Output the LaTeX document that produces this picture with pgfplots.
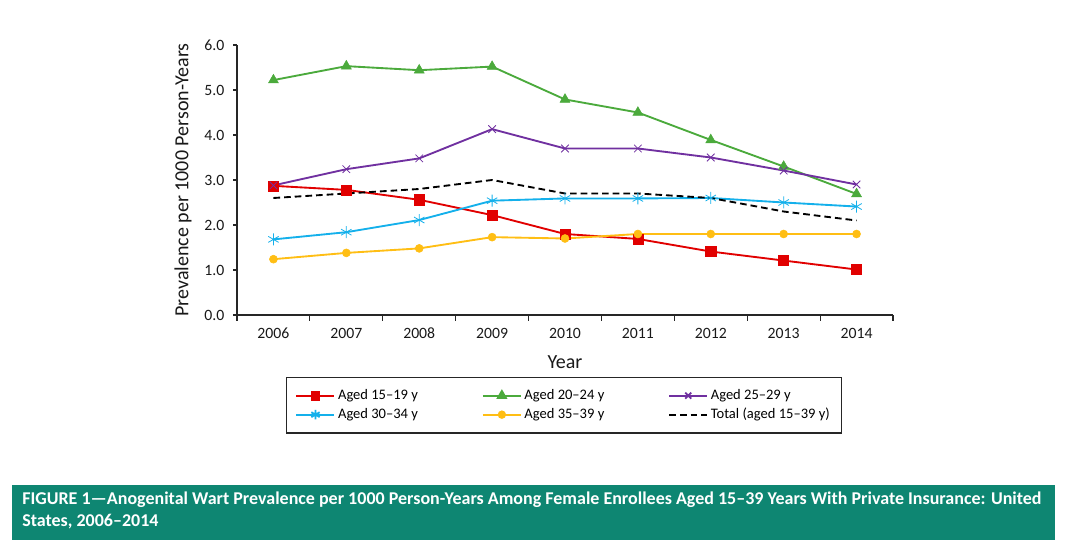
\documentclass[border=0pt]{standalone}
\usepackage{fontspec}
\setmainfont{Carlito}
\usepackage{pgfplots}
\pgfplotsset{compat=1.18}
\definecolor{cred}{RGB}{225,0,0}
\definecolor{cgreen}{RGB}{75,170,60}
\definecolor{cpurple}{RGB}{112,48,160}
\definecolor{cblue}{RGB}{20,176,235}
\definecolor{corange}{RGB}{255,190,20}
\definecolor{cteal}{RGB}{14,134,114}
\begin{document}
\begin{tikzpicture}
\useasboundingbox (0,0) rectangle (800.25pt,416.25pt);
\begin{axis}[
  at={(177.75pt,180pt)}, anchor=south west,
  scale only axis, width=492pt, height=202.5pt,
  xmin=2005.5, xmax=2014.5, ymin=0, ymax=6,
  axis lines*=left,
  axis line style={line width=0.9pt, black!85},
  xtick={2006,2007,2008,2009,2010,2011,2012,2013,2014},
  xticklabels={2006,2007,2008,2009,2010,2011,2012,2013,2014},
  minor xtick={2005.5,2006.5,2007.5,2008.5,2009.5,2010.5,2011.5,2012.5,2013.5,2014.5},
  every major x tick/.style={draw=none},
  every minor tick/.append style={line width=0.9pt, black!85},
  every major tick/.append style={line width=0.9pt, black!85},
  minor tick length=4.5pt, major tick length=3pt, tick align=outside,
  ytick={0,1,2,3,4,5,6},
  yticklabels={0.0,1.0,2.0,3.0,4.0,5.0,6.0},
  tick label style={font=\fontsize{11.8}{12}\selectfont, text=black!90},
  xticklabel style={text height=7.5pt, text depth=0pt, yshift=-3.5pt},
  yticklabel style={xshift=-3pt},
  xlabel={Year}, ylabel={Prevalence per 1000 Person-Years},
  label style={font=\fontsize{15}{16}\selectfont, text=black!90},
  xlabel style={at={(axis description cs:0.5,-0.174)}, anchor=center},
  ylabel style={at={(axis description cs:-0.0823,0.5)}, anchor=center},
  legend columns=3,
  legend cell align=left,
  legend style={at={(0.4985,-0.2296)}, anchor=north, draw=black!85, line width=0.9pt,
    font=\fontsize{10.9}{11}\selectfont, inner xsep=6.5pt, inner ysep=7pt,
    /tikz/every even column/.append style={column sep=46pt},
    row sep=1pt},
  legend image code/.code={\draw[mark repeat=2,mark phase=2] plot coordinates {(0pt,0pt)(14.25pt,0pt)(28.5pt,0pt)};},
  legend image post style={mark options={scale=0.8}},
]
\addplot[cred, line width=1.4pt, mark=square*, mark size=3.8pt, mark options={solid, line width=0.4pt}] coordinates {
(2006,2.87) (2007,2.78) (2008,2.56) (2009,2.22) (2010,1.80) (2011,1.69) (2012,1.41) (2013,1.21) (2014,1.01)};
\addlegendentry{Aged 15–19 y}
\addplot[cgreen, line width=1.4pt, mark=triangle*, mark size=4.3pt, mark options={solid, line width=0.4pt}] coordinates {
(2006,5.22) (2007,5.53) (2008,5.44) (2009,5.52) (2010,4.79) (2011,4.50) (2012,3.89) (2013,3.30) (2014,2.69)};
\addlegendentry{Aged 20–24 y}
\addplot[cpurple, line width=1.4pt, mark=x, mark size=4pt, mark options={solid, line width=0.6pt}] coordinates {
(2006,2.88) (2007,3.24) (2008,3.48) (2009,4.13) (2010,3.70) (2011,3.70) (2012,3.50) (2013,3.21) (2014,2.90)};
\addlegendentry{Aged 25–29 y}
\addplot[cblue, line width=1.4pt, mark=asterisk, mark size=4.5pt, mark options={solid, line width=0.6pt}] coordinates {
(2006,1.68) (2007,1.84) (2008,2.11) (2009,2.54) (2010,2.59) (2011,2.59) (2012,2.60) (2013,2.50) (2014,2.41)};
\addlegendentry{Aged 30–34 y}
\addplot[corange, line width=1.4pt, mark=*, mark size=3pt, mark options={solid, line width=0.4pt}] coordinates {
(2006,1.24) (2007,1.38) (2008,1.48) (2009,1.73) (2010,1.70) (2011,1.80) (2012,1.80) (2013,1.80) (2014,1.80)};
\addlegendentry{Aged 35–39 y}
\addplot[black, line width=1.4pt, dash pattern=on 5pt off 3pt, mark=none] coordinates {
(2006,2.60) (2007,2.70) (2008,2.80) (2009,3.00) (2010,2.70) (2011,2.70) (2012,2.60) (2013,2.30) (2014,2.10)};
\addlegendentry{Total (aged 15–39 y)}
\end{axis}
\fill[cteal] (9pt,11.25pt) rectangle (791.25pt,52.5pt);
\node[anchor=base west, text=white, inner sep=0pt, font=\bfseries\fontsize{13.5}{15}\selectfont] at (16.5pt,37.5pt)
  {FIGURE 1—Anogenital Wart Prevalence per 1000 Person-Years Among Female Enrollees Aged 15–39 Years With Private Insurance: United};
\node[anchor=base west, text=white, inner sep=0pt, font=\bfseries\fontsize{13.5}{15}\selectfont] at (16.5pt,21pt)
  {States, 2006–2014};
\end{tikzpicture}
\end{document}
